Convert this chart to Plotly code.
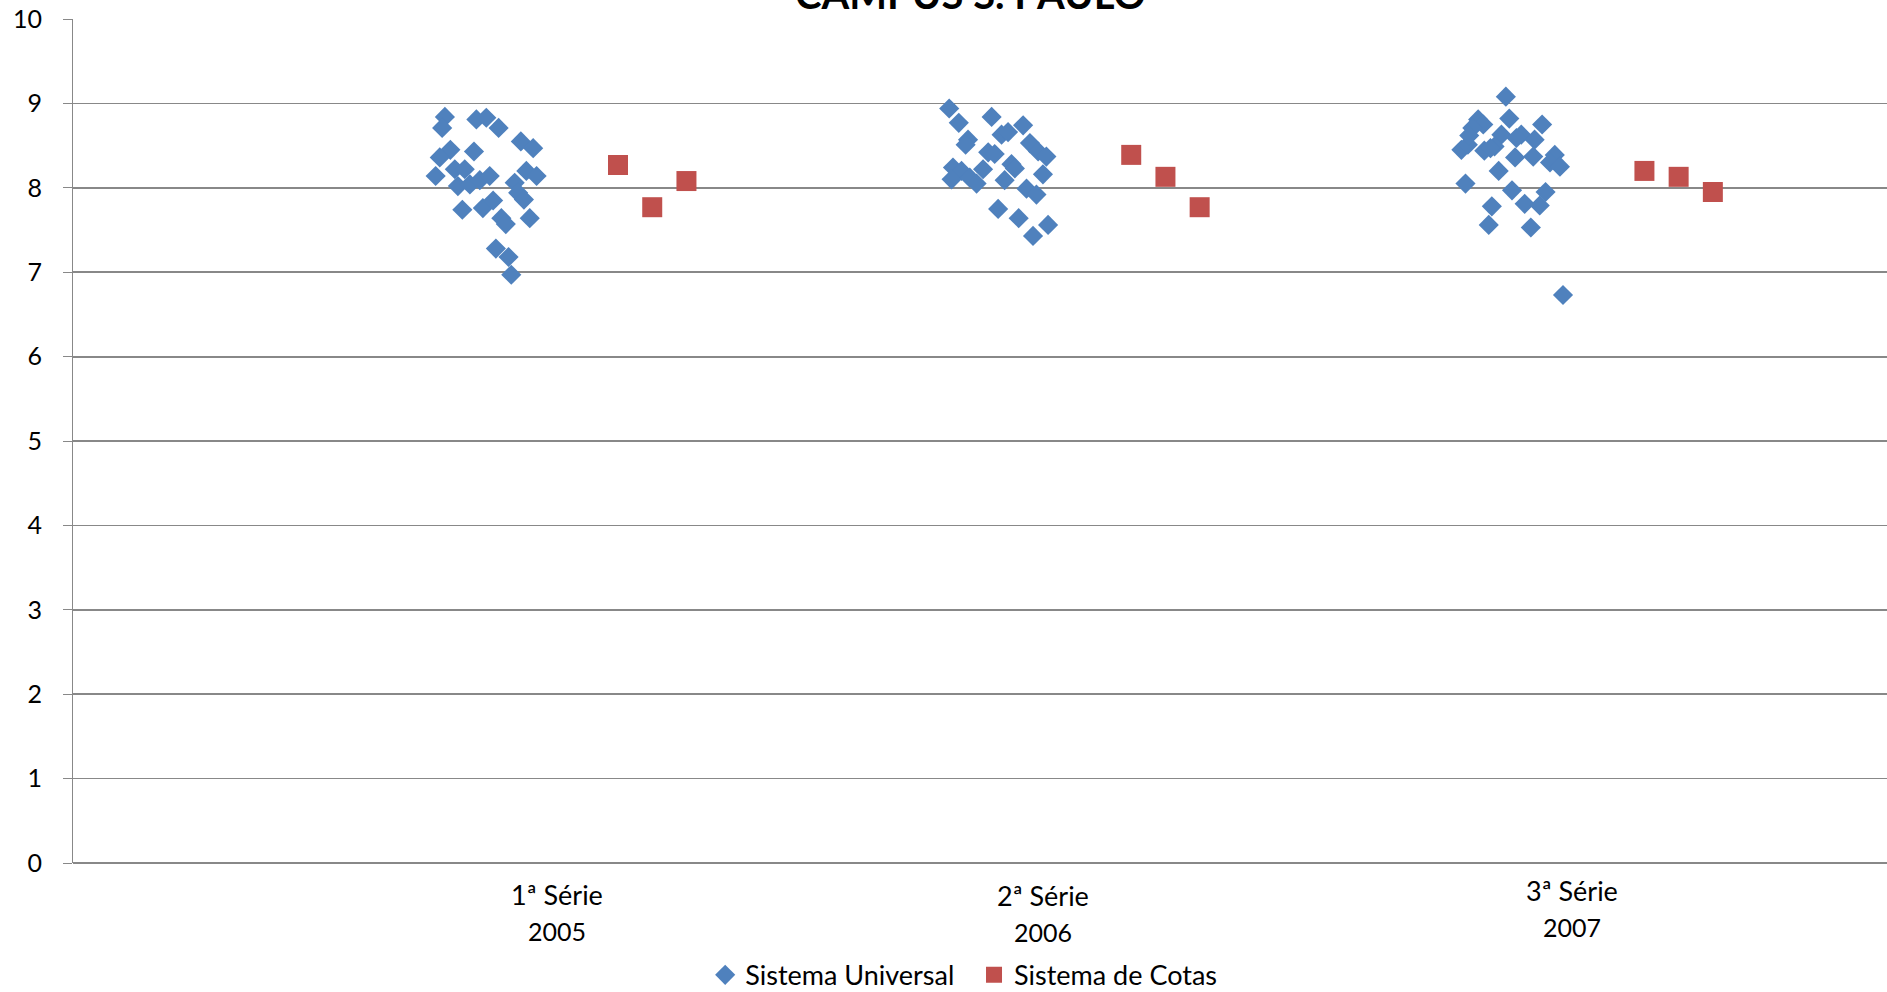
import plotly.graph_objects as go

# ---- data ----
y_ticks = [0, 1, 2, 3, 4, 5, 6, 7, 8, 9, 10]

universal_x_2005 = [10.94, 10.86, 11.86, 12.15, 12.51, 13.16, 13.52, 11.10, 10.79, 11.79, 10.67,
                    11.23, 11.52, 11.32, 11.67, 11.96, 12.25, 13.32, 13.62, 12.98, 13.08, 13.25,
                    11.45, 12.05, 12.35, 12.59, 12.72, 13.42, 12.43, 12.80, 12.88]
universal_y_2005 = [8.84, 8.71, 8.81, 8.83, 8.71, 8.55, 8.47, 8.45, 8.36, 8.43, 8.14,
                    8.22, 8.22, 8.02, 8.04, 8.09, 8.14, 8.20, 8.14, 8.06, 7.94, 7.86,
                    7.74, 7.76, 7.85, 7.64, 7.57, 7.64, 7.28, 7.18, 6.97]

universal_x_2006 = [25.68, 25.96, 26.92, 27.84, 27.21, 27.40, 26.23, 26.16, 28.04, 28.28, 28.52,
                    26.82, 27.01, 27.50, 27.60, 25.79, 26.04, 26.67, 25.75, 26.28, 26.48, 27.30,
                    28.42, 27.94, 28.23, 27.11, 27.71, 28.57, 28.13]
universal_y_2006 = [8.94, 8.77, 8.84, 8.74, 8.63, 8.66, 8.57, 8.51, 8.53, 8.43, 8.37,
                    8.42, 8.40, 8.28, 8.23, 8.24, 8.20, 8.22, 8.10, 8.12, 8.05, 8.09,
                    8.16, 7.99, 7.92, 7.75, 7.64, 7.56, 7.43]

universal_x_2007 = [41.95, 42.05, 43.01, 41.14, 41.29, 40.97, 41.82, 42.40, 42.79, 42.26, 40.65,
                    40.84, 41.32, 41.62, 42.22, 42.75, 43.38, 43.24, 43.53, 41.74, 40.77, 42.13,
                    43.11, 41.54, 42.50, 42.94, 41.45, 42.68, 43.62, 40.88, 41.50]
universal_y_2007 = [9.08, 8.82, 8.75, 8.81, 8.75, 8.71, 8.63, 8.63, 8.57, 8.59, 8.45,
                    8.51, 8.44, 8.49, 8.36, 8.37, 8.39, 8.30, 8.25, 8.20, 8.05, 7.97,
                    7.95, 7.78, 7.81, 7.79, 7.56, 7.53, 6.73, 8.62, 8.47]

cotas_x = [16, 17, 18, 31, 32, 33, 46, 47, 48]
cotas_y = [8.27, 7.77, 8.08, 8.39, 8.13, 7.77, 8.20, 8.13, 7.95]

category_names = ["1ª Série", "2ª Série", "3ª Série"]
category_years = ["2005", "2006", "2007"]
category_x = [14.21, 28.42, 43.88]
category_name_y = [-0.0371, -0.0382, -0.0324]
category_year_y = [-0.0809, -0.0821, -0.0762]

title_text = "CAMPUS S. PAULO"

# ---- figure ----
FONT = "Lato, Calibri, Carlito, sans-serif"
BLUE = "#4F81BD"
RED = "#C0504D"
GRID = "#888888"

universal_x = universal_x_2005 + universal_x_2006 + universal_x_2007
universal_y = universal_y_2005 + universal_y_2006 + universal_y_2007

fig = go.Figure()
fig.add_trace(go.Scatter(
    x=universal_x, y=universal_y, mode="markers", name="Sistema Universal",
    marker=dict(symbol="diamond", size=15.5, color=BLUE, line=dict(width=0)),
    hoverinfo="skip", legend="legend",
))
fig.add_trace(go.Scatter(
    x=cotas_x, y=cotas_y, mode="markers", name="Sistema de Cotas",
    marker=dict(symbol="square", size=20, color=RED, line=dict(width=0)),
    hoverinfo="skip", legend="legend2",
))

for name, year, cx, ny, yy in zip(category_names, category_years, category_x,
                                   category_name_y, category_year_y):
    fig.add_annotation(x=cx, y=ny, xref="x", yref="paper", text=name, showarrow=False,
                       xanchor="center", yanchor="middle",
                       font=dict(family=FONT, size=27, color="#000000"))
    fig.add_annotation(x=cx, y=yy, xref="x", yref="paper", text=year, showarrow=False,
                       xanchor="center", yanchor="middle",
                       font=dict(family=FONT, size=25, color="#000000"))

fig.add_annotation(x=0.4945, y=1.030, xref="paper", yref="paper", text="<b>" + title_text + "</b>",
                   showarrow=False, xanchor="center", yanchor="middle",
                   font=dict(family=FONT, size=40, color="#000000"))

legend_style = dict(orientation="h", y=-0.133, xanchor="left", yanchor="middle",
                    font=dict(family=FONT, size=27), itemsizing="trace",
                    bgcolor="rgba(0,0,0,0)", borderwidth=0)

fig.update_layout(
    width=1887, height=992,
    margin=dict(l=73, r=0, t=19, b=129, autoexpand=False),
    paper_bgcolor="white", plot_bgcolor="white",
    font=dict(family=FONT, size=25, color="#000000"),
    showlegend=True,
    legend=dict(x=0.3485, **legend_style),
    legend2=dict(x=0.4967, **legend_style),
    xaxis=dict(range=[0.07, 53.09], showgrid=False, zeroline=False, showticklabels=False,
               ticks="", showline=False, fixedrange=True, automargin=False),
    yaxis=dict(range=[0, 10], tickvals=y_ticks, showgrid=True, gridcolor=GRID, gridwidth=1.8,
               zeroline=True, zerolinecolor=GRID, zerolinewidth=1.8,
               showline=True, linecolor=GRID, linewidth=1,
               ticks="outside", ticklen=9, tickcolor=GRID, tickwidth=1,
               ticklabelstandoff=16, automargin=False,
               tickfont=dict(family=FONT, size=25, color="#000000"), fixedrange=True),
)

fig.write_html(
    "out.html",
    include_plotlyjs=True,
    config={"displayModeBar": False, "staticPlot": True},
    post_script="document.body.style.margin='0';document.body.style.overflow='hidden';"
                "document.documentElement.style.overflow='hidden';",
)
